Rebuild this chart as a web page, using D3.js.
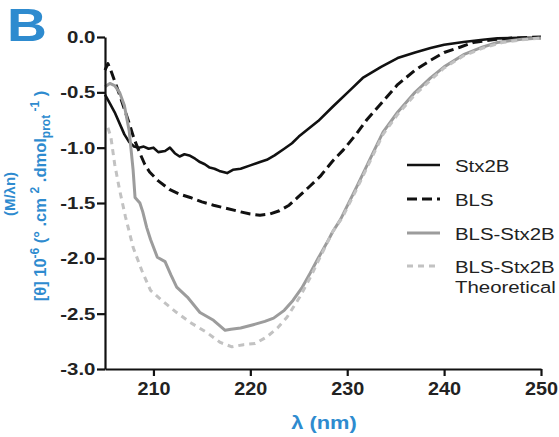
<!DOCTYPE html>
<html>
<head>
<meta charset="utf-8">
<script src="https://cdn.jsdelivr.net/npm/d3@7"></script>
<style>
  body { margin: 0; background: #fff; }
  svg { display: block; font-family: "Liberation Sans", Arial, sans-serif; }
</style>
</head>
<body>
<svg id="chart" width="559" height="437"></svg>
<script>
// wavelength (nm) / ellipticity pairs
const stx2b = [[205,-0.52],[205.5,-0.6],[206,-0.68],[207,-0.88],[207.5,-0.95],[208,-0.99],[208.5,-1.0],[209,-0.99],[209.5,-1.01],[210,-1.0],[210.5,-1.04],[211.2,-1.03],[211.7,-1.0],[212.2,-1.05],[212.7,-1.08],[213.2,-1.06],[213.7,-1.07],[214.3,-1.1],[214.8,-1.13],[215.3,-1.15],[215.8,-1.18],[216.3,-1.19],[216.8,-1.21],[217.6,-1.23],[218.2,-1.2],[219,-1.19],[220,-1.16],[221,-1.13],[221.7,-1.11],[222.5,-1.07],[223.5,-1.01],[224.3,-0.96],[225,-0.9],[226,-0.83],[227,-0.76],[228.5,-0.63],[230.3,-0.48],[231.6,-0.37],[233.5,-0.27],[235.2,-0.19],[237,-0.14],[238.6,-0.1],[240,-0.07],[242,-0.045],[244,-0.025],[245.5,-0.012],[248,-0.008],[250,-0.008]];
const bls = [[205,-0.3],[205.3,-0.24],[205.6,-0.3],[206,-0.4],[206.5,-0.52],[207,-0.65],[207.5,-0.78],[208,-0.92],[208.6,-1.05],[209.1,-1.15],[209.6,-1.22],[210.5,-1.3],[211.7,-1.38],[212.7,-1.42],[213.8,-1.45],[215,-1.49],[216.2,-1.52],[217.6,-1.55],[219,-1.58],[220,-1.6],[221,-1.61],[222,-1.6],[223,-1.57],[224,-1.52],[225,-1.44],[226,-1.36],[227.2,-1.26],[228.5,-1.12],[229.6,-1.02],[231,-0.87],[232,-0.75],[233.5,-0.6],[235.2,-0.43],[237,-0.3],[238.6,-0.21],[240,-0.14],[241.7,-0.09],[243,-0.05],[245,-0.025],[247,-0.01],[250,0]];
const blsStx2b = [[205,-0.45],[205.5,-0.42],[206,-0.44],[206.5,-0.5],[207,-0.62],[207.5,-0.85],[207.9,-1.2],[208.1,-1.45],[208.6,-1.5],[208.9,-1.58],[209.3,-1.72],[209.7,-1.83],[210.4,-1.99],[211.2,-2.03],[211.8,-2.15],[212.4,-2.26],[213.5,-2.35],[214.8,-2.49],[216.2,-2.56],[217.4,-2.65],[218,-2.64],[219,-2.63],[220.3,-2.6],[221.5,-2.57],[222.4,-2.54],[223.5,-2.47],[224.4,-2.38],[225.3,-2.27],[226.2,-2.13],[227,-2.0],[227.9,-1.86],[228.5,-1.76],[229.3,-1.65],[231,-1.35],[232.7,-1.04],[233.7,-0.86],[235.2,-0.68],[237,-0.5],[238.6,-0.37],[240,-0.27],[242,-0.16],[244,-0.09],[245.5,-0.05],[248,-0.02],[250,-0.01]];
const theoretical = [[205.3,-0.82],[205.6,-0.9],[206,-1.15],[206.5,-1.38],[207.1,-1.62],[207.9,-1.9],[208.8,-2.11],[209.7,-2.29],[211,-2.39],[212.4,-2.49],[213.8,-2.58],[215.5,-2.67],[216.9,-2.76],[218.1,-2.8],[219.3,-2.78],[220.5,-2.77],[221.7,-2.71],[222.8,-2.63],[223.8,-2.53],[225.1,-2.35],[226.2,-2.17],[227.2,-1.99],[228.5,-1.76],[229.5,-1.63],[231,-1.37],[232.7,-1.06],[233.7,-0.88],[235.2,-0.7],[237,-0.52],[238.6,-0.39],[240,-0.28],[242,-0.17],[244,-0.1],[246,-0.05],[248,-0.025],[250,-0.01]];

const xTicks = [210, 220, 230, 240, 250];
const yTicks = [0, -0.5, -1, -1.5, -2, -2.5, -3];
const seriesNames = ["Stx2B", "BLS", "BLS-Stx2B", "BLS-Stx2B"];

const blue = "#2e8bcf";
const svg = d3.select("#chart");

const x = d3.scaleLinear().domain([205, 250]).range([105, 541]);
const y = d3.scaleLinear().domain([-3, 0]).range([369, 37]);

// series styles
const series = [
  { data: stx2b, color: "#111", width: 2.6, dash: null },
  { data: bls, color: "#111", width: 3, dash: "10,5" },
  { data: blsStx2b, color: "#9c9c9c", width: 3, dash: null },
  { data: theoretical, color: "#c2c2c2", width: 3, dash: "6,5" }
];

const line = d3.line().x(d => x(d[0])).y(d => y(d[1]));

svg.append("g").selectAll("path")
  .data(series)
  .enter().append("path")
  .attr("d", d => line(d.data))
  .attr("fill", "none")
  .attr("stroke", d => d.color)
  .attr("stroke-width", d => d.width)
  .attr("stroke-dasharray", d => d.dash)
  .attr("stroke-linejoin", "round");

// axes
const yAxis = svg.append("g")
  .attr("transform", "translate(105,0)")
  .call(d3.axisLeft(y).tickValues(yTicks).tickSize(8).tickSizeOuter(0).tickPadding(0)
    .tickFormat(d => d.toFixed(1)));
const xAxis = svg.append("g")
  .attr("transform", "translate(0,369)")
  .call(d3.axisBottom(x).tickValues(xTicks).tickSize(7).tickSizeOuter(0).tickPadding(6));

[yAxis, xAxis].forEach(g => {
  g.select(".domain").attr("stroke", "#111").attr("stroke-width", 2.2);
  g.selectAll(".tick line").attr("stroke", "#111").attr("stroke-width", 2.2);
  g.selectAll(".tick text").attr("fill", "#222").attr("font-weight", "bold")
    .attr("font-size", 17).attr("font-family", "Liberation Sans, Arial, sans-serif");
});
// the figure is a bit stretched sideways, so widen the labels a little
yAxis.selectAll(".tick text").attr("transform", "scale(1.2,1)");
xAxis.selectAll(".tick text").attr("font-size", 18).attr("transform", "scale(1.1,1)");

// x axis title
svg.append("text")
  .attr("transform", "translate(324,429) scale(1.15,1)")
  .attr("text-anchor", "middle")
  .attr("fill", blue).attr("font-weight", "bold").attr("font-size", 19)
  .text("λ (nm)");

// y axis title (two lines)
const yTitle = svg.append("text")
  .attr("transform", "translate(46,196) rotate(-90)")
  .attr("text-anchor", "middle")
  .attr("fill", blue).attr("font-weight", "bold").attr("font-size", 16.5);
yTitle.append("tspan").text("[θ] 10");
yTitle.append("tspan").attr("dy", -7).attr("font-size", 12).text("-6");
yTitle.append("tspan").attr("dy", 7).text(" (° .cm ");
yTitle.append("tspan").attr("dy", -7).attr("font-size", 12).text("2");
yTitle.append("tspan").attr("dy", 7).text(" .dmol");
yTitle.append("tspan").attr("dy", 4).attr("font-size", 12).text("prot");
yTitle.append("tspan").attr("dy", -11).attr("font-size", 12).text(" -1");
yTitle.append("tspan").attr("dy", 7).text(" )");

svg.append("text")
  .attr("transform", "translate(15,194) rotate(-90)")
  .attr("text-anchor", "middle")
  .attr("fill", blue).attr("font-weight", "bold").attr("font-size", 15)
  .text("(M/λn)");

// panel letter
svg.append("text")
  .attr("transform", "translate(7,41) scale(1.2,1)")
  .attr("fill", blue).attr("font-weight", "bold").attr("font-size", 46)
  .text("B");

// legend
const legendY = [165, 199, 233, 266];
const legend = svg.append("g");
series.forEach((s, i) => {
  legend.append("line")
    .attr("x1", 407).attr("x2", 440)
    .attr("y1", legendY[i]).attr("y2", legendY[i])
    .attr("stroke", s.color).attr("stroke-width", s.width)
    .attr("stroke-dasharray", s.dash);
  legend.append("text")
    .attr("transform", `translate(455,${legendY[i] + 7}) scale(1.2,1)`)
    .attr("fill", "#222").attr("font-size", 17)
    .text(seriesNames[i]);
});
legend.append("text")
  .attr("transform", `translate(455,${legendY[3] + 27}) scale(1.2,1)`)
  .attr("fill", "#222").attr("font-size", 17)
  .text("Theoretical");
</script>
</body>
</html>
